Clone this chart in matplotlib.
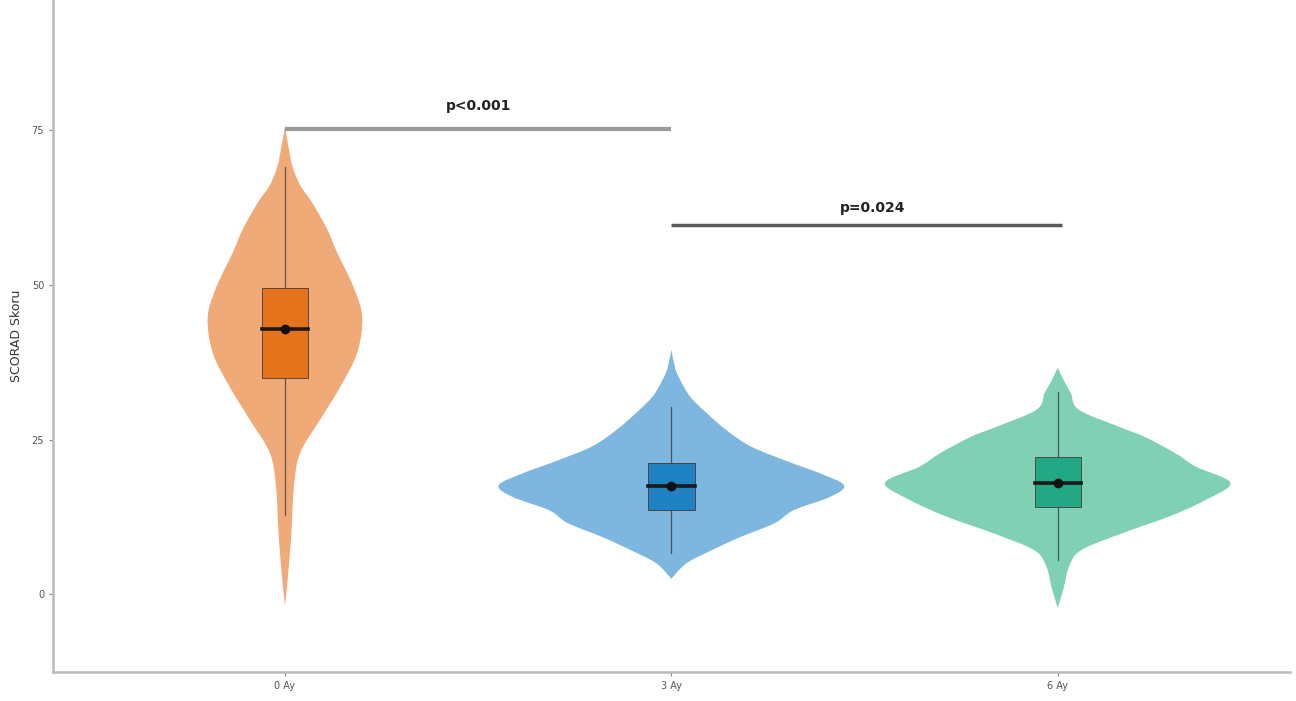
import matplotlib
matplotlib.use("Agg")
import matplotlib.pyplot as plt
from matplotlib.path import Path
from matplotlib.patches import PathPatch
import numpy as np

groups = ["0 Ay", "3 Ay", "6 Ay"]

# violin outlines: score values and half widths (in x units)
v0_y = [75.5, 72, 69, 66, 63.3, 59, 55.2, 49.7, 44.8, 39, 33.5, 28.2, 22.8, 17.3, 9.2, 1.1, -1.8]
v0_w = [0, .01, .02, .04, .07, .109, .135, .177, .2, .187, .143, .091, .039, .023, .016, .005, 0]
v1_y = [39.5, 36.5, 34.6, 31.9, 29.3, 26.5, 23.8, 21.2, 19.6, 17.6, 15.7, 13.6, 11.5, 9.2, 7.1, 5, 2.5]
v1_w = [0, .01, .023, .049, .091, .143, .208, .312, .382, .447, .41, .317, .268, .177, .104, .039, 0]
v2_y = [36.6, 34.5, 32.5, 29.8, 27, 25.4, 22.8, 20.6, 18, 15.2, 12.5, 9.9, 7.1, 4.4, 1.1, -2.2]
v2_w = [0, .016, .034, .055, .161, .226, .304, .358, .447, .382, .286, .169, .06, .029, .016, 0]

# box stats
q1 = [35.0, 13.6, 14.1]
med = [42.9, 17.5, 18.0]
q3 = [49.5, 21.2, 22.2]
wlo = [12.8, 6.6, 5.5]
whi = [69.0, 30.3, 32.7]
means = [42.9, 17.5, 18.0]

pvals = ["p<0.001", "p=0.024"]
bar_y = [75.1, 59.7]

violin_cols = ["#F0AA78", "#7DB6DE", "#80D0B6"]
box_cols = ["#E5731C", "#1F82C2", "#22A884"]


def smooth_side(pts):
    # catmull-rom through the outline points, as cubic bezier segments
    pts = np.asarray(pts, dtype=float)
    ext = np.vstack([pts[0], pts, pts[-1]])
    verts, codes = [], []
    for k in range(1, len(ext) - 2):
        p0, p1, p2, p3 = ext[k - 1], ext[k], ext[k + 1], ext[k + 2]
        c1 = p1 + (p2 - p0) / 6.0
        c2 = p2 - (p3 - p1) / 6.0
        verts += [c1, c2, p2]
        codes += [Path.CURVE4] * 3
    return verts, codes


def violin_path(pos, yy, ww):
    yy = np.array(yy)
    ww = np.array(ww)
    right = np.column_stack([pos + ww, yy])
    left = np.column_stack([pos - ww, yy])[::-1]
    verts = [right[0]]
    codes = [Path.MOVETO]
    v, c = smooth_side(right)
    verts += v
    codes += c
    v, c = smooth_side(left)
    verts += v
    codes += c
    verts.append(right[0])
    codes.append(Path.CLOSEPOLY)
    return Path(verts, codes)


fig = plt.figure(figsize=(12.96, 7.01), dpi=100)
ax = fig.add_axes([0.041, 0.041, 0.954, 0.959])

outlines = [(v0_y, v0_w), (v1_y, v1_w), (v2_y, v2_w)]
for i, (yy, ww) in enumerate(outlines):
    ax.add_patch(PathPatch(violin_path(i, yy, ww), facecolor=violin_cols[i], lw=0, zorder=1))
    # whisker line
    ax.plot([i, i], [wlo[i], whi[i]], color="#3a3a3a", lw=0.9, alpha=0.8, zorder=2)
    # box
    ax.add_patch(plt.Rectangle((i - 0.06, q1[i]), 0.12, q3[i] - q1[i],
                               facecolor=box_cols[i], edgecolor="#4a3a30", lw=0.6, zorder=3))
    ax.plot([i - 0.06, i + 0.06], [med[i], med[i]], color="#1a1a1a", lw=2.6, zorder=4)
    ax.plot(i, means[i], "o", color="#111111", ms=6, zorder=5)

# significance brackets
ax.plot([0, 1], [bar_y[0], bar_y[0]], color="#9a9a9a", lw=3, solid_capstyle="butt", zorder=2)
ax.text(0.5, bar_y[0] + 2.6, pvals[0], ha="center", va="bottom", fontsize=10,
        fontweight="bold", color="#222222")
ax.plot([1, 2.01], [bar_y[1], bar_y[1]], color="#5a5a5a", lw=2.5, solid_capstyle="butt", zorder=2)
ax.text(1.52, bar_y[1] + 1.6, pvals[1], ha="center", va="bottom", fontsize=10,
        fontweight="bold", color="#222222")

ax.set_xlim(-0.6, 2.6)
ax.set_ylim(-12.6, 96)
ax.set_xticks([0, 1, 2])
ax.set_xticklabels(groups)
ax.set_yticks([0, 25, 50, 75])
ax.set_ylabel("SCORAD Skoru", fontsize=9, color="#333333", labelpad=6)
ax.tick_params(axis="both", labelsize=7, colors="#888888", labelcolor="#555555",
               length=3, width=0.8)

for s in ["top", "right"]:
    ax.spines[s].set_visible(False)
for s in ["left", "bottom"]:
    ax.spines[s].set_color("#bbbbbb")
    ax.spines[s].set_linewidth(1.8)

fig.savefig("out.png", dpi=100)
